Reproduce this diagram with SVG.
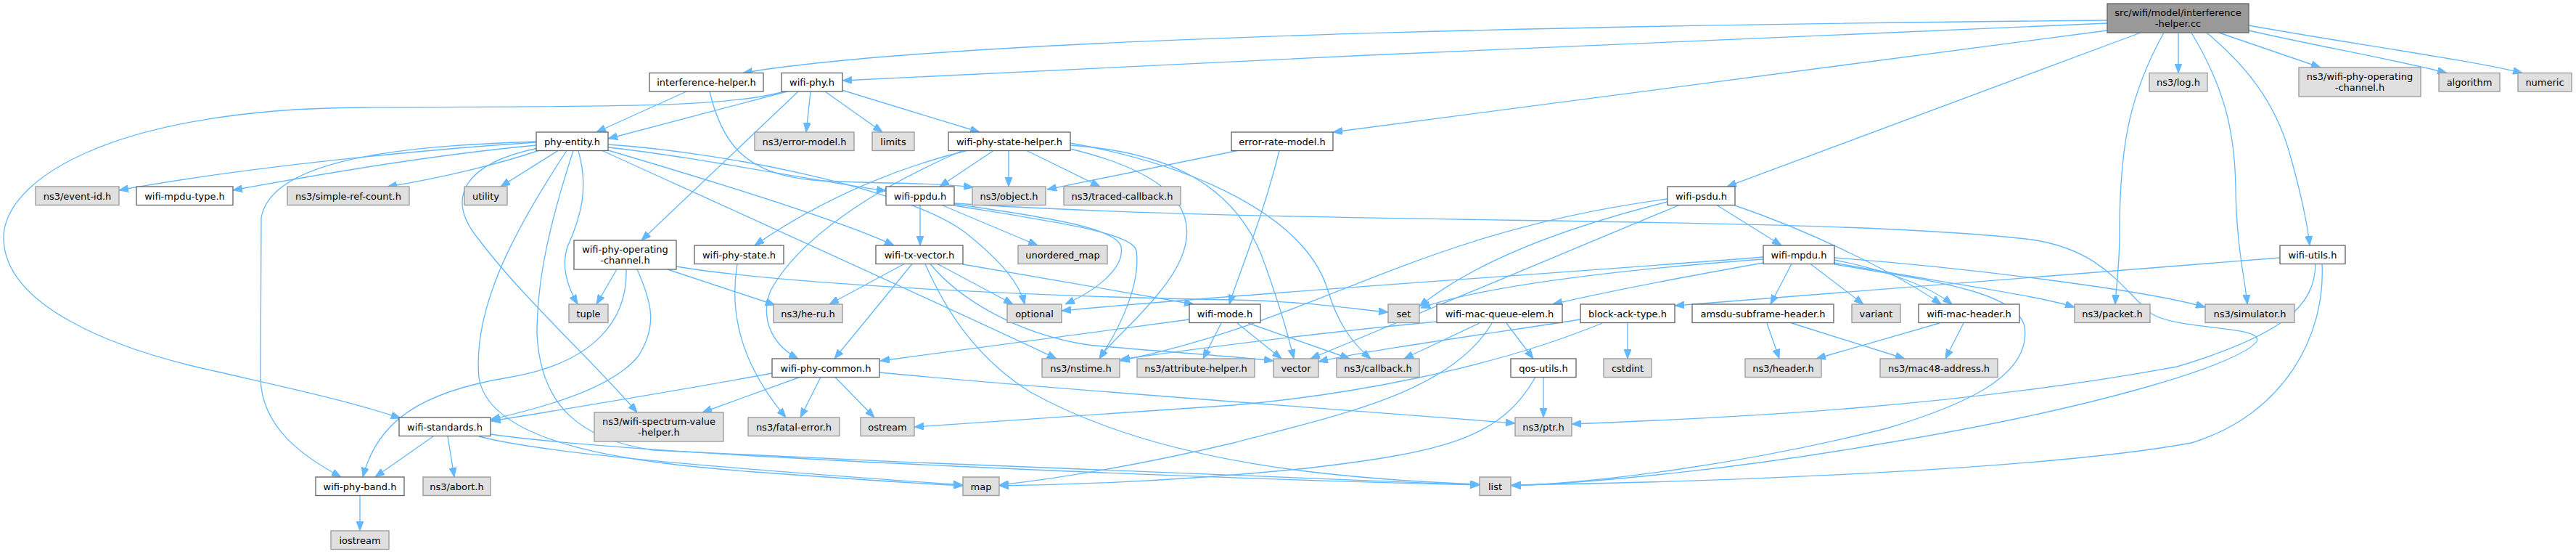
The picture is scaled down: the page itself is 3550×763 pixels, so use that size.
<svg xmlns="http://www.w3.org/2000/svg" width="3550" height="763" viewBox="0 0 3550 763">
<style>
.e{fill:none;stroke:#63b8ff;stroke-width:1.33;marker-end:url(#a)}
.n rect{fill:#ffffff;stroke:#666666;stroke-width:1.33}
.x rect{fill:#e0e0e0;stroke:#999999;stroke-width:1.33}
.r rect{fill:#999999;stroke:#666666;stroke-width:1.33}
text{font-family:"DejaVu Sans","Liberation Sans",sans-serif;font-size:13px;fill:#000000;text-anchor:middle}
</style>
<defs>
<marker id="a" markerWidth="13" markerHeight="10" refX="13" refY="5" orient="auto" markerUnits="userSpaceOnUse"><path d="M0,0 L13,5 L0,10 z" fill="#63b8ff" stroke="#63b8ff"/></marker>
</defs>
<rect width="3550" height="763" fill="#ffffff"/>
<g id="edges">
<path class="e" d="M2904,28 C2450,32 1350,45 1024,100.5"/>
<path class="e" d="M2904,32 C2500,45 1700,85 1161,111"/>
<path class="e" d="M2904,42 L1837,182"/>
<path class="e" d="M2950,45 L2380,257"/>
<path class="e" d="M2982,45 C2935,130 2921,200 2921,320 C2921,370 2916,395 2915,419"/>
<path class="e" d="M3002,45 L3002,100.5"/>
<path class="e" d="M3020,45 C3065,120 3080,180 3081,260 C3082,340 3094,385 3097,419"/>
<path class="e" d="M3041,45 C3095,90 3135,140 3155,210 C3172,270 3180,310 3183,338"/>
<path class="e" d="M3058,45 L3198,93"/>
<path class="e" d="M3099,42 C3200,65 3300,82 3372,100.5"/>
<path class="e" d="M3099,35 C3250,62 3400,82 3476,100.5"/>
<path class="e" d="M946,126 L822,182"/>
<path class="e" d="M978,126 C995,200 1030,240 1120,248 C1200,254 1280,250 1341,258"/>
<path class="e" d="M1085,126 L838,191"/>
<path class="e" d="M1080,126 C1000,150 800,146 500,148 C150,150 2,250 5,330 C8,420 150,480 300,512 C400,535 480,552 552,576"/>
<path class="e" d="M1100,126 L884,331"/>
<path class="e" d="M1117,126 L1111,182"/>
<path class="e" d="M1137,126 L1216,182"/>
<path class="e" d="M1160,124 L1350,182"/>
<path class="e" d="M739,196 C600,205 350,228 164,262"/>
<path class="e" d="M739,200 C600,213 450,238 321,262"/>
<path class="e" d="M742,207.5 C690,225 610,245 534,257"/>
<path class="e" d="M769,207.5 L690,257"/>
<path class="e" d="M797,207.5 C812,260 800,300 782,340 C772,370 785,400 796,419"/>
<path class="e" d="M739,195 C600,200 375,210 360,300 L359,520 C360,590 420,630 470,657"/>
<path class="e" d="M741,204 C640,225 612,272 660,330 C720,410 820,500 878,568"/>
<path class="e" d="M781,207.5 C700,330 652,430 660,520 C675,615 880,638 1040,650 C1150,658 1250,665 1327,669"/>
<path class="e" d="M790,207.5 C760,300 740,380 740,460 C745,560 800,605 900,620 C1300,640 1800,660 2039,668"/>
<path class="e" d="M838,203 C950,215 1100,245 1221,263"/>
<path class="e" d="M838,207 C950,240 1150,300 1232,338"/>
<path class="e" d="M830,207.5 C1000,285 1300,420 1456,494"/>
<path class="e" d="M838,199 C1000,210 1250,260 1330,320 C1380,360 1405,390 1412,419"/>
<path class="e" d="M1369,207.5 L1295,257"/>
<path class="e" d="M1390,207.5 L1390,257"/>
<path class="e" d="M1415,207.5 L1516,257"/>
<path class="e" d="M1332,207.5 C1260,225 1150,262 1040,338"/>
<path class="e" d="M1326,207.5 C1200,262 1100,330 1062,400 C1045,445 1070,478 1100,494"/>
<path class="e" d="M1475,205 C1620,240 1680,300 1600,400 C1560,450 1530,470 1515,494"/>
<path class="e" d="M1475,197 C1650,228 1800,300 1830,400 C1842,440 1860,470 1889,494"/>
<path class="e" d="M1475,200 C1620,210 1700,260 1738,350 C1760,410 1775,460 1783,494"/>
<path class="e" d="M1705,207.5 L1443,261"/>
<path class="e" d="M1763,207.5 C1740,300 1710,370 1694,419"/>
<path class="e" d="M1268,282.5 L1268,338"/>
<path class="e" d="M1298,282.5 L1430,338"/>
<path class="e" d="M1315,281 C1450,300 1540,315 1545,340 C1550,370 1510,400 1468,419"/>
<path class="e" d="M1315,283 C1450,305 1560,320 1566,345 C1572,390 1545,450 1515,494"/>
<path class="e" d="M1315,280 C1800,312 2500,295 2800,330 C2900,345 2925,400 2965,432 C3000,455 3120,448 3110,470 C3090,500 2900,560 2600,610 C2400,645 2200,665 2083,669"/>
<path class="e" d="M1246,363.5 L1143,419"/>
<path class="e" d="M1257,363.5 L1150,494"/>
<path class="e" d="M1292,363.5 L1396,419"/>
<path class="e" d="M1327,364 L1645,419"/>
<path class="e" d="M1275,363.5 C1300,420 1340,490 1420,540 C1600,640 1850,660 2039,667"/>
<path class="e" d="M1282,363.5 C1320,410 1400,460 1500,475 C1600,485 1700,490 1755,497"/>
<path class="e" d="M1639,440 L1213,497"/>
<path class="e" d="M1683,445 L1658,494"/>
<path class="e" d="M1705,445 L1766,494"/>
<path class="e" d="M1720,445 L1860,494"/>
<path class="e" d="M850,371 L822,419"/>
<path class="e" d="M863,371 C865,440 820,500 700,520 C580,540 520,580 500,657"/>
<path class="e" d="M878,371 C900,420 905,450 880,490 C840,540 730,565 676,578"/>
<path class="e" d="M920,371 L1068,420"/>
<path class="e" d="M932,367 C1100,395 1500,410 1700,413 C1800,415 1860,425 1913,430"/>
<path class="e" d="M597,601 L517,657"/>
<path class="e" d="M617,601 L626,657"/>
<path class="e" d="M660,601 C750,625 1000,645 1327,668"/>
<path class="e" d="M676,598 C900,630 1700,660 2039,668"/>
<path class="e" d="M496,682.5 L496,731"/>
<path class="e" d="M1064,514 C950,535 800,560 677,580"/>
<path class="e" d="M1102,519.5 L968,568"/>
<path class="e" d="M1131,519.5 L1103,575"/>
<path class="e" d="M1151,519.5 L1205,575"/>
<path class="e" d="M1212,513 C1500,540 1800,560 2088,583"/>
<path class="e" d="M1016,363.5 C1005,430 1020,500 1083,575"/>
<path class="e" d="M2298,274 C1950,320 1820,440 1544,497"/>
<path class="e" d="M2298,278 C2130,320 2020,370 1956,422"/>
<path class="e" d="M2314,282.5 L1806,494"/>
<path class="e" d="M2366,282.5 L2455,338"/>
<path class="e" d="M2391,283 C2500,320 2620,380 2675,419"/>
<path class="e" d="M2430,354 C2100,380 1700,405 1463,428"/>
<path class="e" d="M2430,357 C2250,370 2050,392 1958,424"/>
<path class="e" d="M2430,362 C2300,385 2200,405 2140,419"/>
<path class="e" d="M2469,363.5 L2440,419"/>
<path class="e" d="M2495,363.5 L2568,419"/>
<path class="e" d="M2528,358 C2600,372 2660,395 2690,419"/>
<path class="e" d="M2528,362 C2650,385 2800,405 2859,423"/>
<path class="e" d="M2528,355 C2700,368 2950,398 3039,423"/>
<path class="e" d="M2528,364 C2650,385 2780,400 2790,450 C2800,520 2700,560 2600,590 C2400,640 2200,665 2083,669"/>
<path class="e" d="M3142,355 C2800,380 2500,405 2308,421"/>
<path class="e" d="M3191,363.5 C3190,420 3150,460 3000,505 C2700,560 2400,575 2166,584"/>
<path class="e" d="M3200,363.5 C3205,460 3150,570 3020,610 C2800,650 2300,665 2083,668"/>
<path class="e" d="M1980,443 C1800,460 1650,480 1544,495"/>
<path class="e" d="M2039,445 L1935,494"/>
<path class="e" d="M2056,445 C2000,540 1850,570 1700,610 C1550,645 1450,660 1377,668"/>
<path class="e" d="M2076,445 L2113,494"/>
<path class="e" d="M2243,445 L2243,494"/>
<path class="e" d="M2178,440 C2050,460 1900,480 1817,498"/>
<path class="e" d="M2208,445 C2050,510 1850,545 1700,558 C1500,572 1350,582 1260,588"/>
<path class="e" d="M2435,445 L2452,494"/>
<path class="e" d="M2469,445 L2625,494"/>
<path class="e" d="M2673,445 L2503,494"/>
<path class="e" d="M2706,445 L2681,494"/>
<path class="e" d="M2127,519.5 L2127,575"/>
<path class="e" d="M2116,519.5 C2070,600 2000,622 1800,645 C1600,665 1450,668 1377,669"/>
</g>
<g id="root" class="r"><rect x="2904" y="5" width="195" height="40"/><text x="3001.5" y="22">src/wifi/model/interference</text><text x="3001.5" y="36.5">-helper.cc</text></g>
<g id="interference-helper" class="n"><rect x="895" y="100.5" width="157" height="25.5"/><text x="973.5" y="118">interference-helper.h</text></g>
<g id="wifi-phy" class="n"><rect x="1077" y="100.5" width="84" height="25.5"/><text x="1119" y="118">wifi-phy.h</text></g>
<g id="ns3-log" class="x"><rect x="2962" y="100.5" width="80" height="25.5"/><text x="3002" y="118">ns3/log.h</text></g>
<g id="ns3-wifi-phy-operating-channel" class="x"><rect x="3168" y="93" width="168" height="40"/><text x="3252" y="110">ns3/wifi-phy-operating</text><text x="3252" y="124.5">-channel.h</text></g>
<g id="algorithm" class="x"><rect x="3361" y="100.5" width="84" height="25.5"/><text x="3403" y="118">algorithm</text></g>
<g id="numeric" class="x"><rect x="3470" y="100.5" width="74" height="25.5"/><text x="3507" y="118">numeric</text></g>
<g id="phy-entity" class="n"><rect x="739" y="182" width="99" height="25.5"/><text x="788.5" y="199.5">phy-entity.h</text></g>
<g id="ns3-error-model" class="x"><rect x="1040" y="182" width="137" height="25.5"/><text x="1108.5" y="199.5">ns3/error-model.h</text></g>
<g id="limits" class="x"><rect x="1202" y="182" width="58" height="25.5"/><text x="1231" y="199.5">limits</text></g>
<g id="wifi-phy-state-helper" class="n"><rect x="1307" y="182" width="168" height="25.5"/><text x="1391" y="199.5">wifi-phy-state-helper.h</text></g>
<g id="error-rate-model" class="n"><rect x="1697" y="182" width="140" height="25.5"/><text x="1767" y="199.5">error-rate-model.h</text></g>
<g id="ns3-event-id" class="x"><rect x="49" y="257" width="115" height="25.5"/><text x="106.5" y="274.5">ns3/event-id.h</text></g>
<g id="wifi-mpdu-type" class="n"><rect x="188" y="257" width="133" height="25.5"/><text x="254.5" y="274.5">wifi-mpdu-type.h</text></g>
<g id="ns3-simple-ref-count" class="x"><rect x="396" y="257" width="168" height="25.5"/><text x="480" y="274.5">ns3/simple-ref-count.h</text></g>
<g id="utility" class="x"><rect x="640" y="257" width="59" height="25.5"/><text x="669.5" y="274.5">utility</text></g>
<g id="wifi-ppdu" class="n"><rect x="1221" y="257" width="94" height="25.5"/><text x="1268" y="274.5">wifi-ppdu.h</text></g>
<g id="ns3-object" class="x"><rect x="1340" y="257" width="101" height="25.5"/><text x="1390.5" y="274.5">ns3/object.h</text></g>
<g id="ns3-traced-callback" class="x"><rect x="1466" y="257" width="161" height="25.5"/><text x="1546.5" y="274.5">ns3/traced-callback.h</text></g>
<g id="wifi-psdu" class="n"><rect x="2298" y="257" width="93" height="25.5"/><text x="2344.5" y="274.5">wifi-psdu.h</text></g>
<g id="wifi-phy-operating-channel" class="n"><rect x="791" y="331" width="141" height="40"/><text x="861.5" y="348">wifi-phy-operating</text><text x="861.5" y="362.5">-channel.h</text></g>
<g id="wifi-phy-state" class="n"><rect x="957" y="338" width="123" height="25.5"/><text x="1018.5" y="355.5">wifi-phy-state.h</text></g>
<g id="wifi-tx-vector" class="n"><rect x="1207" y="338" width="120" height="25.5"/><text x="1267" y="355.5">wifi-tx-vector.h</text></g>
<g id="unordered_map" class="x"><rect x="1403" y="338" width="123" height="25.5"/><text x="1464.5" y="355.5">unordered_map</text></g>
<g id="wifi-mpdu" class="n"><rect x="2430" y="338" width="98" height="25.5"/><text x="2479" y="355.5">wifi-mpdu.h</text></g>
<g id="wifi-utils" class="n"><rect x="3142" y="338" width="90" height="25.5"/><text x="3187" y="355.5">wifi-utils.h</text></g>
<g id="tuple" class="x"><rect x="784" y="419" width="54" height="25.5"/><text x="811" y="436.5">tuple</text></g>
<g id="ns3-he-ru" class="x"><rect x="1066" y="419" width="95" height="25.5"/><text x="1113.5" y="436.5">ns3/he-ru.h</text></g>
<g id="optional" class="x"><rect x="1388" y="419" width="75" height="25.5"/><text x="1425.5" y="436.5">optional</text></g>
<g id="wifi-mode" class="n"><rect x="1639" y="419" width="98" height="25.5"/><text x="1688" y="436.5">wifi-mode.h</text></g>
<g id="set" class="x"><rect x="1913" y="419" width="43" height="25.5"/><text x="1934.5" y="436.5">set</text></g>
<g id="wifi-mac-queue-elem" class="n"><rect x="1980" y="419" width="173" height="25.5"/><text x="2066.5" y="436.5">wifi-mac-queue-elem.h</text></g>
<g id="block-ack-type" class="n"><rect x="2178" y="419" width="130" height="25.5"/><text x="2243" y="436.5">block-ack-type.h</text></g>
<g id="amsdu-subframe-header" class="n"><rect x="2332" y="419" width="195" height="25.5"/><text x="2429.5" y="436.5">amsdu-subframe-header.h</text></g>
<g id="variant" class="x"><rect x="2552" y="419" width="67" height="25.5"/><text x="2585.5" y="436.5">variant</text></g>
<g id="wifi-mac-header" class="n"><rect x="2644" y="419" width="139" height="25.5"/><text x="2713.5" y="436.5">wifi-mac-header.h</text></g>
<g id="ns3-packet" class="x"><rect x="2859" y="419" width="104" height="25.5"/><text x="2911" y="436.5">ns3/packet.h</text></g>
<g id="ns3-simulator" class="x"><rect x="3039" y="419" width="123" height="25.5"/><text x="3100.5" y="436.5">ns3/simulator.h</text></g>
<g id="wifi-phy-common" class="n"><rect x="1064" y="494" width="148" height="25.5"/><text x="1138" y="511.5">wifi-phy-common.h</text></g>
<g id="ns3-nstime" class="x"><rect x="1436" y="494" width="107" height="25.5"/><text x="1489.5" y="511.5">ns3/nstime.h</text></g>
<g id="ns3-attribute-helper" class="x"><rect x="1567" y="494" width="162" height="25.5"/><text x="1648" y="511.5">ns3/attribute-helper.h</text></g>
<g id="vector" class="x"><rect x="1755" y="494" width="62" height="25.5"/><text x="1786" y="511.5">vector</text></g>
<g id="ns3-callback" class="x"><rect x="1842" y="494" width="114" height="25.5"/><text x="1899" y="511.5">ns3/callback.h</text></g>
<g id="qos-utils" class="n"><rect x="2082" y="494" width="90" height="25.5"/><text x="2127" y="511.5">qos-utils.h</text></g>
<g id="cstdint" class="x"><rect x="2210" y="494" width="66" height="25.5"/><text x="2243" y="511.5">cstdint</text></g>
<g id="ns3-header" class="x"><rect x="2405" y="494" width="105" height="25.5"/><text x="2457.5" y="511.5">ns3/header.h</text></g>
<g id="ns3-mac48-address" class="x"><rect x="2591" y="494" width="162" height="25.5"/><text x="2672" y="511.5">ns3/mac48-address.h</text></g>
<g id="wifi-standards" class="n"><rect x="550" y="575" width="126" height="25.5"/><text x="613" y="592.5">wifi-standards.h</text></g>
<g id="ns3-wifi-spectrum-value-helper" class="x"><rect x="819" y="568" width="178" height="40"/><text x="908" y="585">ns3/wifi-spectrum-value</text><text x="908" y="599.5">-helper.h</text></g>
<g id="ns3-fatal-error" class="x"><rect x="1031" y="575" width="126" height="25.5"/><text x="1094" y="592.5">ns3/fatal-error.h</text></g>
<g id="ostream" class="x"><rect x="1186" y="575" width="74" height="25.5"/><text x="1223" y="592.5">ostream</text></g>
<g id="ns3-ptr" class="x"><rect x="2088" y="575" width="78" height="25.5"/><text x="2127" y="592.5">ns3/ptr.h</text></g>
<g id="wifi-phy-band" class="n"><rect x="435" y="657" width="122" height="25.5"/><text x="496" y="674.5">wifi-phy-band.h</text></g>
<g id="ns3-abort" class="x"><rect x="583" y="657" width="93" height="25.5"/><text x="629.5" y="674.5">ns3/abort.h</text></g>
<g id="map" class="x"><rect x="1327" y="657" width="50" height="25.5"/><text x="1352" y="674.5">map</text></g>
<g id="list" class="x"><rect x="2039" y="657" width="43" height="25.5"/><text x="2060.5" y="674.5">list</text></g>
<g id="iostream" class="x"><rect x="456" y="731" width="80" height="25.5"/><text x="496" y="748.5">iostream</text></g>
</svg>
